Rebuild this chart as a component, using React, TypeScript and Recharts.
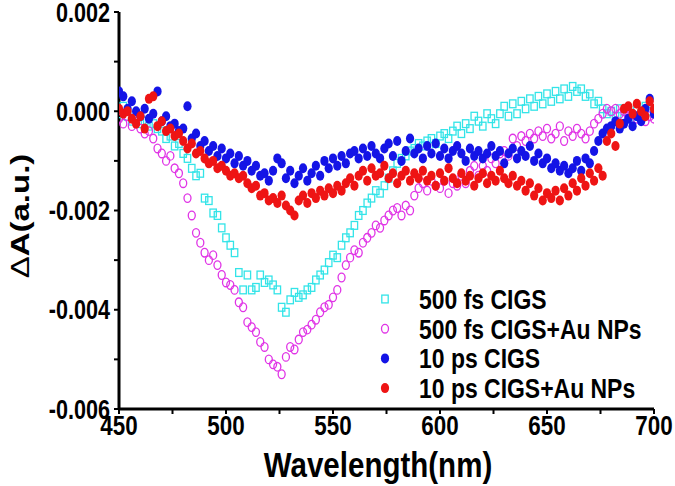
import { ScatterChart, Scatter, XAxis, YAxis } from "recharts";

// values are in units of 1e-3 (a.u.)
const wavelengths = [
    450, 452, 454, 456, 458, 460, 462, 464, 466, 468, 470, 472, 474, 476, 478, 480, 482, 484, 486, 488,
    490, 492, 494, 496, 498, 500, 502, 504, 506, 508, 510, 512, 514, 516, 518, 520, 522, 524, 526, 528,
    530, 532, 534, 536, 538, 540, 542, 544, 546, 548, 550, 552, 554, 556, 558, 560, 562, 564, 566, 568,
    570, 572, 574, 576, 578, 580, 582, 584, 586, 588, 590, 592, 594, 596, 598, 600, 602, 604, 606, 608,
    610, 612, 614, 616, 618, 620, 622, 624, 626, 628, 630, 632, 634, 636, 638, 640, 642, 644, 646, 648,
    650, 652, 654, 656, 658, 660, 662, 664, 666, 668, 670, 672, 674, 676, 678, 680, 682, 684, 686, 688,
    690, 692, 694, 696, 698, 700,
];

const fs500Cigs = [
    -0.05, 0.1, -0.1, -0.2, -0.15, -0.25, -0.2, -0.3, -0.25, -0.35, -0.4, -0.55, -0.5, -0.7, -0.65, -0.85, -0.95, -1.15, -1.3, -1.25,
    -1.75, -1.8, -2.05, -2.1, -2.35, -2.55, -2.7, -2.85, -3.25, -3.6, -3.3, -3.6, -3.55, -3.3, -3.45, -3.4, -3.5, -3.6, -3.95, -4.05,
    -3.8, -3.65, -3.75, -3.7, -3.6, -3.55, -3.4, -3.3, -3.2, -3.05, -2.9, -2.95, -2.7, -2.55, -2.45, -2.3, -2.1, -2.0, -1.85, -1.75,
    -1.6, -1.65, -1.5, -1.35, -1.2, -1.05, -0.95, -0.9, -0.8, -0.75, -0.65, -0.7, -0.6, -0.55, -0.65, -0.5, -0.45, -0.55, -0.4, -0.3,
    -0.45, -0.25, -0.35, -0.1, -0.2, -0.3, -0.05, -0.15, -0.25, -0.05, 0.1, -0.1, 0.15, -0.05, 0.2, 0.05, 0.25, 0.1, 0.3, 0.15,
    0.35, 0.2, 0.4, 0.25, 0.45, 0.3, 0.5, 0.4, 0.45, 0.3, 0.35, 0.15, 0.2, 0.05, -0.05, 0.0, -0.1, 0.05, -0.15, 0.0,
    -0.1, 0.05, -0.05, 0.1, 0.0, -0.05,
];

const fs500CigsAu = [
    -0.15, -0.25, -0.1, -0.3, -0.2, -0.35, -0.45, -0.4, -0.55, -0.75, -0.85, -1.0, -0.9, -1.15, -1.25, -1.45, -1.75, -2.1, -2.45, -2.65,
    -2.85, -3.0, -2.9, -3.1, -3.3, -3.45, -3.5, -3.6, -3.85, -3.95, -4.25, -4.35, -4.45, -4.65, -4.75, -5.0, -5.1, -5.15, -5.3, -4.95,
    -4.75, -4.8, -4.6, -4.45, -4.4, -4.3, -4.2, -4.05, -3.95, -3.9, -3.75, -3.6, -3.35, -3.1, -2.95, -2.8, -2.85, -2.65, -2.55, -2.45,
    -2.3, -2.35, -2.2, -2.1, -2.0, -1.95, -2.1, -1.9, -2.0, -1.7, -1.55, -1.45, -1.6, -1.4, -1.5, -1.55, -1.4, -1.65, -1.45, -1.5,
    -1.3, -1.45, -1.2, -1.1, -1.3, -1.1, -1.2, -0.95, -1.05, -0.85, -0.8, -0.9, -0.55, -0.7, -0.5, -0.6, -0.45, -0.55, -0.4, -0.5,
    -0.35, -0.55, -0.45, -0.3, -0.6, -0.4, -0.5, -0.35, -0.45, -0.55, -0.4, -0.25, -0.15, -0.05, 0.05, 0.0, 0.05, -0.05, 0.0, -0.1,
    -0.05, -0.15, -0.05, -0.2, -0.1, -0.15,
];

const ps10Cigs = [
    0.4, 0.3, 0.05, 0.2, 0.0, -0.1, 0.05, -0.15, -0.05, 0.4, -0.2, -0.1, -0.3, -0.25, -0.4, -0.35, 0.1, -0.55, -0.45, -0.7,
    -0.6, -0.8, -0.7, -0.9, -0.75, -0.95, -0.85, -1.05, -0.9, -1.1, -1.0, -1.2, -1.1, -1.3, -1.25, -1.4, -1.2, -0.95, -1.05, -1.35,
    -1.2, -1.45, -1.3, -1.15, -1.4, -1.25, -1.1, -1.3, -1.0, -1.15, -0.95, -1.1, -0.9, -1.05, -0.85, -0.8, -0.95, -0.75, -0.9, -0.7,
    -0.85, -0.95, -0.75, -0.65, -0.9, -0.6, -1.0, -0.8, -0.55, -0.85, -0.75, -0.95, -0.7, -0.85, -0.65, -0.9, -0.75, -0.95, -0.8, -0.7,
    -0.85, -1.0, -0.75, -0.9, -0.8, -0.95, -0.85, -0.7, -0.9, -0.8, -1.05, -0.85, -0.75, -0.95, -0.8, -0.9, -0.7, -1.0, -0.85, -1.05,
    -0.95, -1.15, -1.05, -1.2, -1.1, -1.25, -1.15, -1.0, -1.2, -0.95, -1.05, -0.8, -0.6, -0.45, -0.35, -0.3, -0.2, -0.35, -0.25, -0.15,
    -0.3, -0.1, -0.2, 0.05, 0.25, -0.05,
];

const ps10CigsAu = [
    0.05, -0.05, 0.0, -0.15, -0.25, -0.1, -0.35, 0.25, 0.3, -0.3, -0.2, -0.4, -0.35, -0.5, -0.45, -0.6, -0.75, -0.65, -0.85, -0.8,
    -0.95, -1.05, -1.0, -1.15, -1.1, -1.2, -1.3, -1.25, -1.35, -1.3, -1.45, -1.55, -1.5, -1.7, -1.65, -1.8, -1.75, -1.85, -1.7, -1.9,
    -2.0, -2.1, -1.8, -1.7, -1.85, -1.65, -1.75, -1.6, -1.7, -1.55, -1.65, -1.5, -1.6, -1.45, -1.35, -1.5, -1.3, -1.2, -1.4, -1.15,
    -1.3, -1.25, -1.1, -1.35, -1.25, -1.45, -1.3, -1.2, -1.4, -1.25, -1.35, -1.2, -1.4, -1.3, -1.5, -1.25, -1.4, -1.15, -1.35, -1.45,
    -1.25, -1.4, -1.3, -1.5, -1.35, -1.25, -1.45, -1.3, -1.4, -1.2, -1.35, -1.45, -1.3, -1.5, -1.4, -1.6, -1.45, -1.7, -1.55, -1.8,
    -1.65, -1.75, -1.6, -1.8, -1.55, -1.7, -1.45, -1.6, -1.35, -1.5, -1.25, -1.4, -1.15, -1.3, -0.6, -0.45, -0.7, -0.25, 0.05, 0.1,
    -0.05, 0.15, 0.0, -0.1, 0.2, 0.05,
];

const xTicks = [450, 475, 500, 525, 550, 575, 600, 625, 650, 675, 700];
const yTicks = [-6, -5, -4, -3, -2, -1, 0, 1, 2];

const CYAN = "#33E4E8";
const MAGENTA = "#E034E6";
const BLUE = "#1414E6";
const RED = "#EE1414";
const FONT = "'Liberation Sans', Arial, sans-serif";
const SQUEEZE = 0.8; // the figure's text is horizontally condensed

const toPoints = (vals: number[]) => wavelengths.map((x, i) => ({ x, y: vals[i] }));

const Square = (p: any) => (
    <rect x={p.cx - 3.2} y={p.cy - 3.9} width={6.4} height={7.8} fill="none" stroke={CYAN} strokeWidth={1.3} />
);
const OpenCircle = (p: any) => (
    <ellipse cx={p.cx} cy={p.cy} rx={3.5} ry={4.3} fill="none" stroke={MAGENTA} strokeWidth={1.3} />
);
const BlueDot = (p: any) => <ellipse cx={p.cx} cy={p.cy} rx={4.1} ry={5} fill={BLUE} />;
const RedDot = (p: any) => <ellipse cx={p.cx} cy={p.cy} rx={4.1} ry={5} fill={RED} />;

const XTick = (p: any) => {
    const v = p.payload.value;
    if (v % 50 !== 0) return <g />;
    return (
        <text
            transform={`translate(${p.x},${p.y + 1}) scale(${SQUEEZE},1)`}
            textAnchor="middle"
            dy="0.72em"
            fontSize={28}
            fontWeight="bold"
            fontFamily={FONT}
            fill="#000"
        >
            {v}
        </text>
    );
};

const YTick = (p: any) => {
    const v = p.payload.value;
    if (v % 2 !== 0) return <g />;
    return (
        <text
            transform={`translate(${p.x},${p.y}) scale(${SQUEEZE},1)`}
            textAnchor="end"
            dy="0.36em"
            fontSize={27}
            fontWeight="bold"
            fontFamily={FONT}
            fill="#000"
        >
            {(v / 1000).toFixed(3)}
        </text>
    );
};

const axisStyle = { stroke: "#000", strokeWidth: 3 };
const tickLineStyle = { stroke: "#000", strokeWidth: 2 };

const legendRows = [
    { label: "500 fs CIGS", kind: "square" },
    { label: "500 fs CIGS+Au NPs", kind: "open" },
    { label: "10 ps CIGS", kind: "blue" },
    { label: "10 ps CIGS+Au NPs", kind: "red" },
];

function LegendMarker({ kind, x, y }: { kind: string; x: number; y: number }) {
    if (kind === "square") return <Square cx={x} cy={y} />;
    if (kind === "open") return <OpenCircle cx={x} cy={y} />;
    if (kind === "blue") return <BlueDot cx={x} cy={y} />;
    return <RedDot cx={x} cy={y} />;
}

export default function App() {
    return (
        <div style={{ position: "absolute", left: 0, top: 0, width: 675, height: 486, background: "#fff" }}>
            <ScatterChart width={675} height={486} margin={{ top: 12, right: 21, bottom: 0, left: 0 }}>
                <XAxis
                    xAxisId={0}
                    dataKey="x"
                    type="number"
                    domain={[450, 700]}
                    ticks={xTicks}
                    height={77}
                    tickSize={5}
                    tickMargin={0}
                    axisLine={axisStyle}
                    tickLine={tickLineStyle}
                    tick={XTick}
                    interval={0}
                    allowDataOverflow
                />
                <XAxis
                    xAxisId="top"
                    orientation="top"
                    type="number"
                    domain={[450, 700]}
                    ticks={xTicks}
                    tickFormatter={() => ""}
                    height={0}
                    mirror
                    tickSize={5}
                    axisLine={axisStyle}
                    tickLine={tickLineStyle}
                    interval={0}
                    allowDataOverflow
                />
                <YAxis
                    yAxisId={0}
                    dataKey="y"
                    type="number"
                    domain={[-6, 2]}
                    ticks={yTicks}
                    width={119}
                    tickSize={5}
                    tickMargin={4}
                    axisLine={axisStyle}
                    tickLine={tickLineStyle}
                    tick={YTick}
                    interval={0}
                    allowDataOverflow
                />
                <YAxis
                    yAxisId="right"
                    orientation="right"
                    type="number"
                    domain={[-6, 2]}
                    ticks={yTicks}
                    tickFormatter={() => ""}
                    width={0}
                    mirror
                    tickSize={5}
                    axisLine={axisStyle}
                    tickLine={tickLineStyle}
                    interval={0}
                    allowDataOverflow
                />
                <Scatter data={toPoints(fs500Cigs)} shape={Square} isAnimationActive={false} />
                <Scatter data={toPoints(fs500CigsAu)} shape={OpenCircle} isAnimationActive={false} />
                <Scatter data={toPoints(ps10Cigs)} shape={BlueDot} isAnimationActive={false} />
                <Scatter data={toPoints(ps10CigsAu)} shape={RedDot} isAnimationActive={false} />
            </ScatterChart>
            <svg
                width={675}
                height={486}
                style={{ position: "absolute", left: 0, top: 0, pointerEvents: "none" }}
                fontFamily={FONT}
                fontWeight="bold"
            >
                {legendRows.map((r, i) => (
                    <g key={r.label}>
                        <LegendMarker kind={r.kind} x={385} y={299 + i * 29.7} />
                        <text
                            transform={`translate(419,${299 + i * 29.7}) scale(0.82,1)`}
                            dy="0.36em"
                            fontSize={28}
                            fill="#000"
                        >
                            {r.label}
                        </text>
                    </g>
                ))}
                <text
                    transform="translate(378,477) scale(0.82,1)"
                    textAnchor="middle"
                    fontSize={36}
                    fill="#000"
                >
                    Wavelength(nm)
                </text>
                <text
                    transform={`translate(29,216) scale(${SQUEEZE},1) rotate(-90)`}
                    textAnchor="middle"
                    fontSize={33}
                    fill="#000"
                >
                    <tspan fontWeight="normal">Δ</tspan>A(a.u.)
                </text>
            </svg>
        </div>
    );
}
